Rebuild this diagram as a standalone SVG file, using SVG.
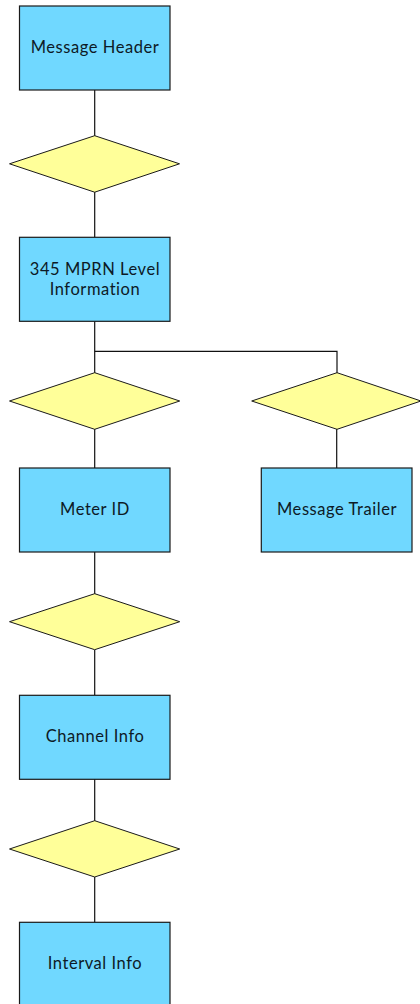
<svg xmlns="http://www.w3.org/2000/svg" width="420" height="1004" viewBox="0 0 420 1004">
<style>
.box{fill:#70d8ff;stroke:#1a1a1a;stroke-width:1.2}
.dia{fill:#ffff99;stroke:#1a1a1a;stroke-width:1}
.lbl{font-family:Lato,"Open Sans",sans-serif;font-size:16.5px;letter-spacing:0.55px;fill:#0d1a26;text-anchor:middle}
.con{fill:none;stroke:#111;stroke-width:1.2}
</style>
<rect width="420" height="1004" fill="#ffffff"/>
<g id="connectors">
<path class="con" d="M94.7 90V136"/>
<path class="con" d="M94.7 192V237"/>
<path class="con" d="M94.7 321V373"/>
<path class="con" d="M94.7 351.3H337V373"/>
<path class="con" d="M94.7 429V468"/>
<path class="con" d="M336.7 429V468"/>
<path class="con" d="M94.7 552V594"/>
<path class="con" d="M94.7 650V695"/>
<path class="con" d="M94.7 779V821"/>
<path class="con" d="M94.7 877V922"/>
</g>
<g id="message-header">
<rect class="box" x="19.5" y="6" width="150.5" height="84"/>
<text class="lbl" x="95" y="53.3">Message Header</text>
</g>
<g id="diamond-1">
<polygon class="dia" points="94.7,135.7 179.5,163.8 94.7,192.2 9.5,163.8"/>
</g>
<g id="mprn-level">
<rect class="box" x="19.5" y="237.3" width="150.5" height="84"/>
<text class="lbl" x="95" y="274.8">345 MPRN Level</text>
<text class="lbl" x="95" y="294.7">Information</text>
</g>
<g id="diamond-2">
<polygon class="dia" points="94.7,372.7 179.7,401 94.7,429.3 9.5,401"/>
</g>
<g id="diamond-right">
<polygon class="dia" points="337,372.7 421,401 337,429.3 251.7,401"/>
</g>
<g id="meter-id">
<rect class="box" x="19.5" y="468" width="150.5" height="84"/>
<text class="lbl" x="95" y="515">Meter ID</text>
</g>
<g id="message-trailer">
<rect class="box" x="261.3" y="468" width="150.7" height="84"/>
<text class="lbl" x="337" y="515">Message Trailer</text>
</g>
<g id="diamond-3">
<polygon class="dia" points="94.7,593.7 179.7,621.7 94.7,649.7 9.5,621.7"/>
</g>
<g id="channel-info">
<rect class="box" x="19.5" y="695.3" width="150.5" height="84"/>
<text class="lbl" x="95" y="741.7">Channel Info</text>
</g>
<g id="diamond-4">
<polygon class="dia" points="94.7,820.7 179.7,849 94.7,877 9.5,849"/>
</g>
<g id="interval-info">
<rect class="box" x="19.5" y="922.3" width="150.5" height="84"/>
<text class="lbl" x="95" y="968.7">Interval Info</text>
</g>
</svg>
